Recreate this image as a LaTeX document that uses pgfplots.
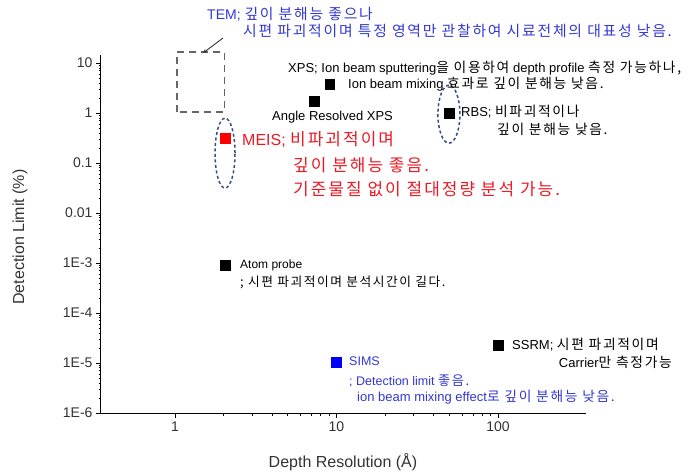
\documentclass[border=0pt]{standalone}
\usepackage{fontspec}
\setmainfont{Liberation Sans}
\newfontfamily\kr{Noto Sans CJK KR}[Scale=1.06, LetterSpace=12]
\usepackage{pgfplots}
\pgfplotsset{compat=1.18}
\definecolor{tblue}{RGB}{50,55,210}
\definecolor{mred}{RGB}{235,25,35}
\definecolor{ellc}{RGB}{50,80,130}
\begin{document}
\begin{tikzpicture}
\begin{axis}[
  scale only axis, width=485pt, height=358pt,
  xmode=log, ymode=log,
  xmin=0.348, xmax=351, ymin=1e-6, ymax=14.5,
  axis x line*=bottom, axis y line*=left,
  xtick={1,10,100}, xticklabels={1,10,100},
  ytick={1e-6,1e-5,1e-4,1e-3,0.01,0.1,1,10},
  yticklabels={1E-6,1E-5,1E-4,1E-3,0.01,0.1,1,10},
  tick align=outside, major tick length=5pt, minor tick length=2.5pt,
  tick style={black, line width=0.8pt}, axis line style={line width=1pt},
  ticklabel style={font=\fontsize{14}{16}\selectfont, text=black!80},
  clip=false,
]
\addplot[only marks, mark=square*, mark size=4.8pt, black] coordinates {
  (7.26,1.74) (9.1,3.8) (49.7,1.0) (2.04,9.1e-4) (100,2.3e-5)};
\addplot[only marks, mark=square*, mark size=4.8pt, red] coordinates {(2.04,0.316)};
\addplot[only marks, mark=square*, mark size=4.8pt, blue] coordinates {(10,1.05e-5)};
\draw[dashed, dash pattern=on 7pt off 5pt, gray!80!black, line width=1.4pt] (axis cs:1.03,1.05) rectangle (axis cs:2.02,16.6);
\draw[dashed, dash pattern=on 3pt off 2.5pt, ellc, line width=1.5pt] (axis cs:2.04,0.158) ellipse [x radius=10pt, y radius=35pt];
\draw[dashed, dash pattern=on 3pt off 2.5pt, ellc, line width=1.5pt] (axis cs:49.7,0.95) ellipse [x radius=11pt, y radius=29pt];
\end{axis}
\begin{scope}[x=1pt, y=-1pt, shift={(-101,-413)}]
\draw[-stealth, black!80, line width=0.9pt] (223,38) -- (203,53);
\begin{scope}[every node/.style={anchor=west, inner sep=0pt, font=\fontsize{13}{15}\selectfont}]
\node[text=tblue, font=\fontsize{14}{16}\selectfont] at (207,14) {TEM; {\kr 깊이 분해능 좋으나}};
\node[text=tblue, font=\fontsize{14}{16}\selectfont] at (243,31) {{\kr 시편 파괴적이며 특정 영역만 관찰하여 시료전체의 대표성 낮음.}};
\node at (288,68) {XPS; Ion beam sputtering{\kr 을 이용하여} depth profile {\kr 측정 가능하나,}};
\node at (348,84) {Ion beam mixing {\kr 효과로 깊이 분해능 낮음.}};
\node at (272,117) {Angle Resolved XPS};
\node at (461,112) {RBS; {\kr 비파괴적이나}};
\node at (497,129) {{\kr 깊이 분해능 낮음.}};
\node[text=mred, font=\fontsize{16}{18}\selectfont] at (242,140) {MEIS; {\kr 비파괴적이며}};
\node[text=mred, font=\fontsize{16}{18}\selectfont] at (293,165) {{\kr 깊이 분해능 좋음.}};
\node[text=mred, font=\fontsize{16}{18}\selectfont] at (293,189) {{\kr 기준물질 없이 절대정량 분석 가능.}};
\node[font=\fontsize{12}{14}\selectfont] at (240,265) {Atom probe};
\node[font=\fontsize{12}{14}\selectfont] at (240,282) {{\kr ; 시편 파괴적이며 분석시간이 길다.}};
\node[text=tblue, font=\fontsize{12.5}{14}\selectfont] at (349,361) {SIMS};
\node[text=tblue, font=\fontsize{12.5}{14}\selectfont] at (349,381) {; Detection limit {\kr 좋음.}};
\node[text=tblue] at (357,397) {ion beam mixing effect{\kr 로 깊이 분해능 낮음.}};
\node at (512,345) {SSRM; {\kr 시편 파괴적이며}};
\node[anchor=east] at (672,362) {Carrier{\kr 만 측정가능}};
\end{scope}
\node[font=\fontsize{16}{18}\selectfont, text=black!80] at (343,462) {Depth Resolution (Å)};
\node[font=\fontsize{16}{18}\selectfont, text=black!80, rotate=90] at (20,237) {Detection Limit (\%)};
\pgfresetboundingbox
\path[use as bounding box] (0,0) rectangle (696,475);
\end{scope}
\end{tikzpicture}
\end{document}
